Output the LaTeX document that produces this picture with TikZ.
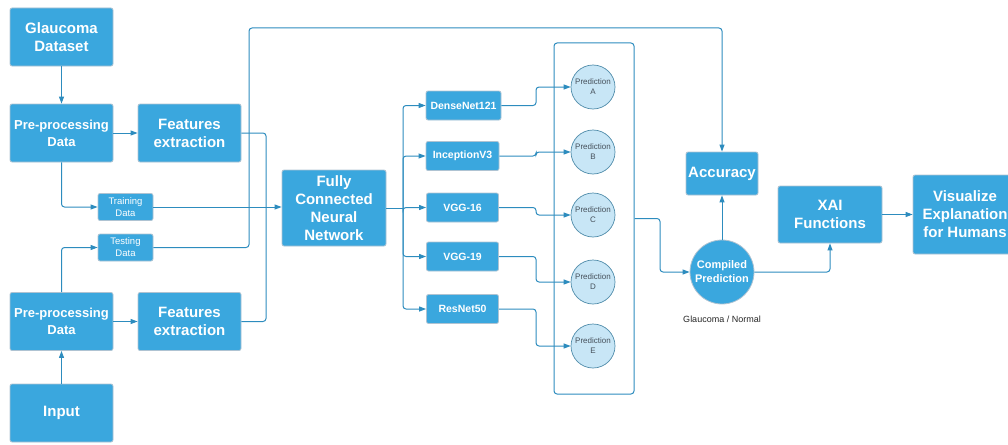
\documentclass[tikz,border=0pt]{standalone}
\usepackage{fontspec}
\setmainfont{Liberation Sans}
\usetikzlibrary{arrows.meta,calc}
\definecolor{boxblue}{RGB}{58,167,222}
\definecolor{edgegray}{RGB}{175,195,210}
\definecolor{wire}{RGB}{45,140,190}
\definecolor{predfill}{RGB}{200,230,246}
\definecolor{predline}{RGB}{80,140,170}
\definecolor{predtext}{RGB}{70,80,90}

\tikzset{
  blk/.style={draw=edgegray, line width=0.8pt, fill=boxblue, rounded corners=2pt,
    text=white, align=center, inner sep=0pt,
    font=\bfseries\fontsize{15}{18}\selectfont},
  bigblk/.style={blk, minimum width=103pt, minimum height=58pt},
  ppblk/.style={bigblk, font=\bfseries\fontsize{13}{17}\selectfont},
  smallblk/.style={blk, minimum width=55pt, minimum height=27pt,
    font=\fontsize{9.5}{12}\selectfont},
  modelblk/.style={blk, minimum width=72pt, minimum height=29pt,
    font=\bfseries\fontsize{10.5}{12}\selectfont},
  pred/.style={circle, draw=predline, line width=0.7pt, fill=predfill,
    minimum size=44pt, inner sep=0pt, align=center, text=predtext,
    font=\fontsize{8}{10}\selectfont},
  wire/.style={draw=wire, line width=1pt, rounded corners=3pt},
  arr/.style={wire, -{Triangle[length=7pt,width=5pt]}},
}

\begin{document}
\begin{tikzpicture}[x=1pt,y=-1pt]
\useasboundingbox (0,0) rectangle (1008,444);
\clip (0,0) rectangle (1008,444);

% data preparation column
\node[bigblk] (data) at (61.5,37) {Glaucoma\\Dataset};
\node[ppblk] (pp1) at (61.5,133) {Pre-processing\\Data};
\node[bigblk] (feat1) at (189.5,133) {Features\\extraction};
\node[smallblk] (train) at (125.5,207) {Training\\Data};
\node[smallblk] (test) at (125.5,247.5) {Testing\\Data};
\node[ppblk] (pp2) at (61.5,321.5) {Pre-processing\\Data};
\node[bigblk] (feat2) at (189.5,321.5) {Features\\extraction};
\node[bigblk] (input) at (61.5,413) {Input};

% network and backbones
\node[blk, minimum width=104pt, minimum height=76pt] (fcnn) at (334,208) {Fully\\Connected\\Neural\\Network};
\node[modelblk, minimum width=75pt] (dense) at (463.5,105.5) {DenseNet121};
\node[modelblk, minimum width=73pt] (incep) at (462.5,156) {InceptionV3};
\node[modelblk] (vgg16) at (462.5,207.5) {VGG-16};
\node[modelblk] (vgg19) at (462.5,256.5) {VGG-19};
\node[modelblk] (res) at (462.5,309) {ResNet50};

% ensemble of predictions
\node[draw=wire, line width=1pt, rounded corners=3pt, minimum width=80pt, minimum height=351pt, inner sep=0pt] (ens) at (594,218.5) {};
\node[pred] (pA) at (593,87) {Prediction\\A};
\node[pred] (pB) at (593,152) {Prediction\\B};
\node[pred] (pC) at (593,215) {Prediction\\C};
\node[pred] (pD) at (593,282) {Prediction\\D};
\node[pred] (pE) at (593,346) {Prediction\\E};

% outputs
\node[circle, draw=edgegray, line width=0.8pt, fill=boxblue, minimum size=64pt, inner sep=0pt,
  align=center, text=white, font=\bfseries\fontsize{11}{14}\selectfont] (comp) at (722,272) {Compiled\\Prediction};
\node[font=\fontsize{9}{11}\selectfont, text=black!85] (gn) at (722,319.5) {Glaucoma / Normal};
\node[blk, minimum width=72pt, minimum height=43pt] (acc) at (722,173.5) {Accuracy};
\node[blk, minimum width=104pt, minimum height=57pt] (xai) at (830,214.5) {XAI\\Functions};
\node[blk, minimum width=104pt, minimum height=79pt] (vis) at (965,214.5) {Visualize\\Explanation\\for Humans};

% routing points
\coordinate (joinx) at (266,0);
\coordinate (topbus) at (249,28);
\coordinate (split) at (403,208);
\coordinate (midx) at (536,0);
\coordinate (ensx) at (660,0);

% connectors: preparation
\draw[arr] (data.south) -- (pp1.north);
\draw[arr] (input.north) -- (pp2.south);
\draw[arr] (pp1.east) -- (feat1.west);
\draw[arr] (pp2.east) -- (feat2.west);
\draw[arr] (pp1.south) |- (train.west);
\draw[arr] (pp2.north) |- (test.west);
\draw[wire] (feat1.east) -- (feat1.east -| joinx) -- (feat2.east -| joinx) -- (feat2.east);
\draw[arr] (train.east) -- (train.east -| fcnn.west);
\draw[arr] (test.east) -| (topbus) -| (acc.north);

% connectors: network to backbones
\draw[wire] (fcnn.east |- split) -- (split);
\draw[arr] (split) |- (dense.west);
\draw[arr] (split) |- (incep.west);
\draw[arr] (split) |- (vgg16.west);
\draw[arr] (split) |- (vgg19.west);
\draw[arr] (split) |- (res.west);

% backbones to predictions
\draw[arr] (dense.east) -- (dense.east -| midx) |- (pA.west);
\draw[arr] (incep.east) -- (incep.east -| midx) |- (pB.west);
\draw[arr] (vgg16.east) -- (vgg16.east -| midx) |- (pC.west);
\draw[arr] (vgg19.east) -- (vgg19.east -| midx) |- (pD.west);
\draw[arr] (res.east) -- (res.east -| midx) |- (pE.west);

% ensemble to outputs
\draw[arr] (ens.east) -- (ens.east -| ensx) |- (comp.west);
\draw[arr] (comp.north) -- (acc.south);
\draw[arr] (comp.east) -| (xai.south);
\draw[arr] (xai.east) -- (vis.west);
\end{tikzpicture}
\end{document}
